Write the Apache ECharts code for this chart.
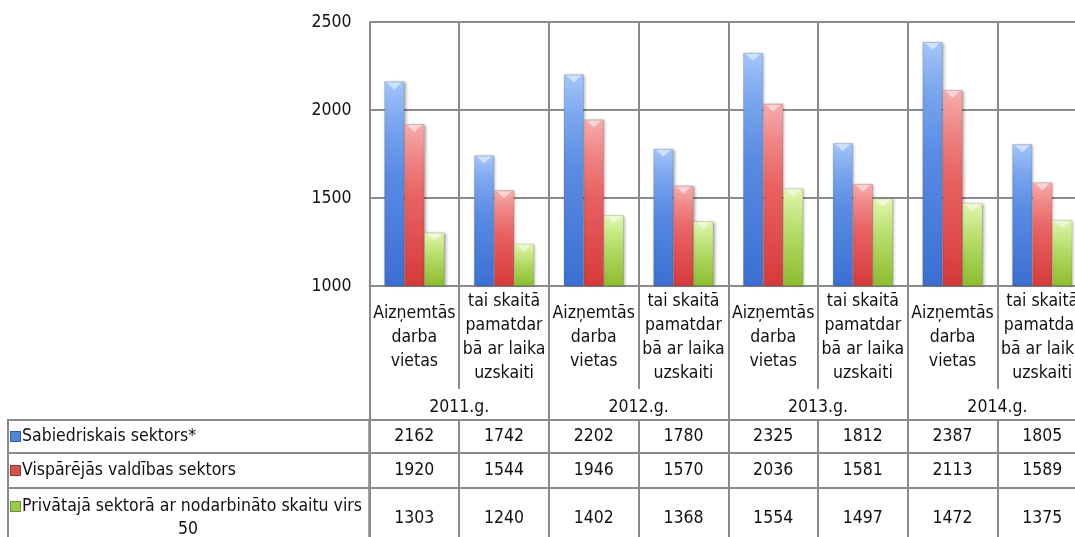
<!DOCTYPE html>
<html><head><meta charset="utf-8">
<script src="https://cdn.jsdelivr.net/npm/echarts@6/dist/echarts.min.js"></script>
<style>html,body{margin:0;padding:0;background:#fff}#c{width:1075px;height:537px}</style>
</head><body><div id="c"></div>
<script>
// ---- data ----
const years = ['2011.g.', '2012.g.', '2013.g.', '2014.g.'];
const subCategories = ['Aizņemtās\ndarba\nvietas', 'tai skaitā\npamatdar\nbā ar laika\nuzskaiti'];
const seriesNames = ['Sabiedriskais sektors*', 'Vispārējās valdības sektors', 'Privātajā sektorā ar nodarbināto skaitu virs\n50'];
const sabiedriskais = [2162, 1742, 2202, 1780, 2325, 1812, 2387, 1805];
const visparejas = [1920, 1544, 1946, 1570, 2036, 1581, 2113, 1589];
const privatais = [1303, 1240, 1402, 1368, 1554, 1497, 1472, 1375];
const yMin = 1000, yMax = 2500, yInterval = 500;

const categories = [];
years.forEach(() => subCategories.forEach(s => categories.push(s)));
const seriesValues = [sabiedriskais, visparejas, privatais];

// ---- font detection ----
function hasFont(name) {
  const c = document.createElement('canvas').getContext('2d');
  const t = 'Aizņemtās darba 2162 abcdefghijklmnopqrstuvwxyz';
  let r = false;
  ['monospace', 'serif'].forEach(f => {
    c.font = '40px ' + f; const a = c.measureText(t).width;
    c.font = '40px "' + name + '", ' + f; const b = c.measureText(t).width;
    if (Math.abs(a - b) > 0.5) r = true;
  });
  return r;
}
let FONT = '"Liberation Sans", Arial, sans-serif', FS = 17;
if (hasFont('Liberation Sans Narrow')) { FONT = '"Liberation Sans Narrow", sans-serif'; FS = 21; }
else if (hasFont('DejaVu Sans Condensed')) { FONT = '"DejaVu Sans Condensed", sans-serif'; FS = 17.5; }

const GRAY = '#8a8a8a';
const LW = 2;
const TXT = '#111';

const PL = 369.5, PW = 717.6;
const rowTops = [420, 453, 488];
const rowHs = [33, 35, 60];

const barColors = [
  ['#a3c6fa', '#7aa6ee', '#5a8ce4', '#3a6fd2'],
  ['#f7acac', '#f08686', '#e86262', '#d63a3a'],
  ['#e2f6b4', '#cdeb8e', '#b5dc68', '#8cbc2e']
];
const keyColors = ['#4f86d8', '#d65050', '#9cc84c'];
const keyBorders = ['#35609e', '#9e3535', '#6e9230'];

const grids = [
  { left: PL, top: 22, width: PW, height: 264, outerBoundsMode: 'none' },
  { left: PL, top: 389, width: PW, height: 31, outerBoundsMode: 'none' }
];
const xAxes = [
  {
    gridIndex: 0, type: 'category', data: categories, position: 'bottom',
    axisLine: { show: true, lineStyle: { color: GRAY, width: LW } },
    axisTick: { show: true, interval: 0, length: 103, lineStyle: { color: GRAY, width: LW } },
    axisLabel: { interval: 0, margin: 51.5, verticalAlign: 'middle', lineHeight: 24.3,
      fontSize: FS, fontFamily: FONT, color: TXT },
    splitLine: { show: true, interval: 0, lineStyle: { color: GRAY, width: LW } }
  },
  {
    gridIndex: 1, type: 'category', data: years, position: 'bottom',
    axisLine: { show: false },
    axisTick: { show: true, inside: true, interval: 0, length: 31, lineStyle: { color: GRAY, width: LW } },
    axisLabel: { inside: true, interval: 0, margin: 13, verticalAlign: 'middle',
      fontSize: FS, fontFamily: FONT, color: TXT },
    splitLine: { show: false }
  }
];
const yAxes = [
  {
    gridIndex: 0, type: 'value', min: yMin, max: yMax, interval: yInterval, startValue: yMin,
    axisLine: { show: false }, axisTick: { show: false },
    axisLabel: { margin: 18, fontSize: FS, fontFamily: FONT, color: TXT, formatter: v => String(v) },
    splitLine: { show: true, lineStyle: { color: GRAY, width: LW } }
  },
  { gridIndex: 1, type: 'value', show: false }
];

// table rows: label cell grid + value cells grid
seriesNames.forEach((name, r) => {
  const gi = grids.length;
  grids.push({ left: 8, top: rowTops[r], width: PL - 8, height: rowHs[r], show: true,
    borderColor: GRAY, borderWidth: LW, backgroundColor: 'transparent', outerBoundsMode: 'none' });
  xAxes.push({ gridIndex: gi, type: 'value', show: false });
  const parts = name.split('\n');
  let txt = '{sq' + r + '|}{t|' + parts[0] + '}';
  if (parts.length > 1) txt += '\n{c|' + parts.slice(1).join(' ') + '}';
  const rich = { t: { fontSize: FS, fontFamily: FONT, color: TXT, padding: [0, 0, 0, 2] },
                 c: { fontSize: FS, fontFamily: FONT, color: TXT, align: 'center' } };
  rich['sq' + r] = { width: 9, height: 9, backgroundColor: keyColors[r], borderColor: keyBorders[r], borderWidth: 1 };
  yAxes.push({ gridIndex: gi, type: 'category', data: [name],
    axisLine: { show: false }, axisTick: { show: false }, splitLine: { show: false },
    axisLabel: { inside: true, margin: 3, verticalAlign: 'middle', lineHeight: 23,
      width: parts.length > 1 ? 354 : undefined,
      formatter: () => txt, rich: rich } });

  const gv = grids.length;
  grids.push({ left: PL, top: rowTops[r], width: PW, height: rowHs[r], show: true,
    borderColor: GRAY, borderWidth: LW, backgroundColor: 'transparent', outerBoundsMode: 'none' });
  xAxes.push({ gridIndex: gv, type: 'category', position: 'top',
    data: seriesValues[r].map(String),
    axisLine: { show: false }, axisTick: { show: false },
    axisLabel: { inside: true, interval: 0, margin: rowHs[r] / 2, verticalAlign: 'middle',
      fontSize: FS, fontFamily: FONT, color: TXT },
    splitLine: { show: true, interval: 0, lineStyle: { color: GRAY, width: LW } } });
  yAxes.push({ gridIndex: gv, type: 'value', show: false });
});

const series = seriesValues.map((vals, i) => ({
  type: 'bar', name: seriesNames[i], xAxisIndex: 0, yAxisIndex: 0, data: vals,
  barGap: '0%', barCategoryGap: '33%',
  itemStyle: {
    color: new echarts.graphic.LinearGradient(0, 0, 0, 1, [
      { offset: 0, color: barColors[i][0] },
      { offset: 0.2, color: barColors[i][1] },
      { offset: 0.45, color: barColors[i][2] },
      { offset: 1, color: barColors[i][3] }
    ]),
    borderColor: 'rgba(0,0,0,0.18)', borderWidth: 0.6,
    shadowBlur: 3, shadowColor: 'rgba(0,0,0,0.35)', shadowOffsetX: 1.5, shadowOffsetY: 0.5
  }
}));
// bevel highlight at the top of each bar
seriesValues.forEach((vals, i) => {
  series.push({
    type: 'pictorialBar', xAxisIndex: 0, yAxisIndex: 0, data: vals, z: 5,
    barGap: '0%', barCategoryGap: '33%', silent: true,
    symbol: 'path://M0,0 L10,0 L5,6 Z', symbolSize: [15, 7], symbolPosition: 'end',
    symbolOffset: [0, 1],
    itemStyle: { color: 'rgba(255,255,255,0.5)' }
  });
});

const chart = echarts.init(document.getElementById('c'), null, { renderer: 'canvas' });
chart.setOption({
  animation: false,
  backgroundColor: '#fff',
  grid: grids, xAxis: xAxes, yAxis: yAxes, series: series
});
</script></body></html>
